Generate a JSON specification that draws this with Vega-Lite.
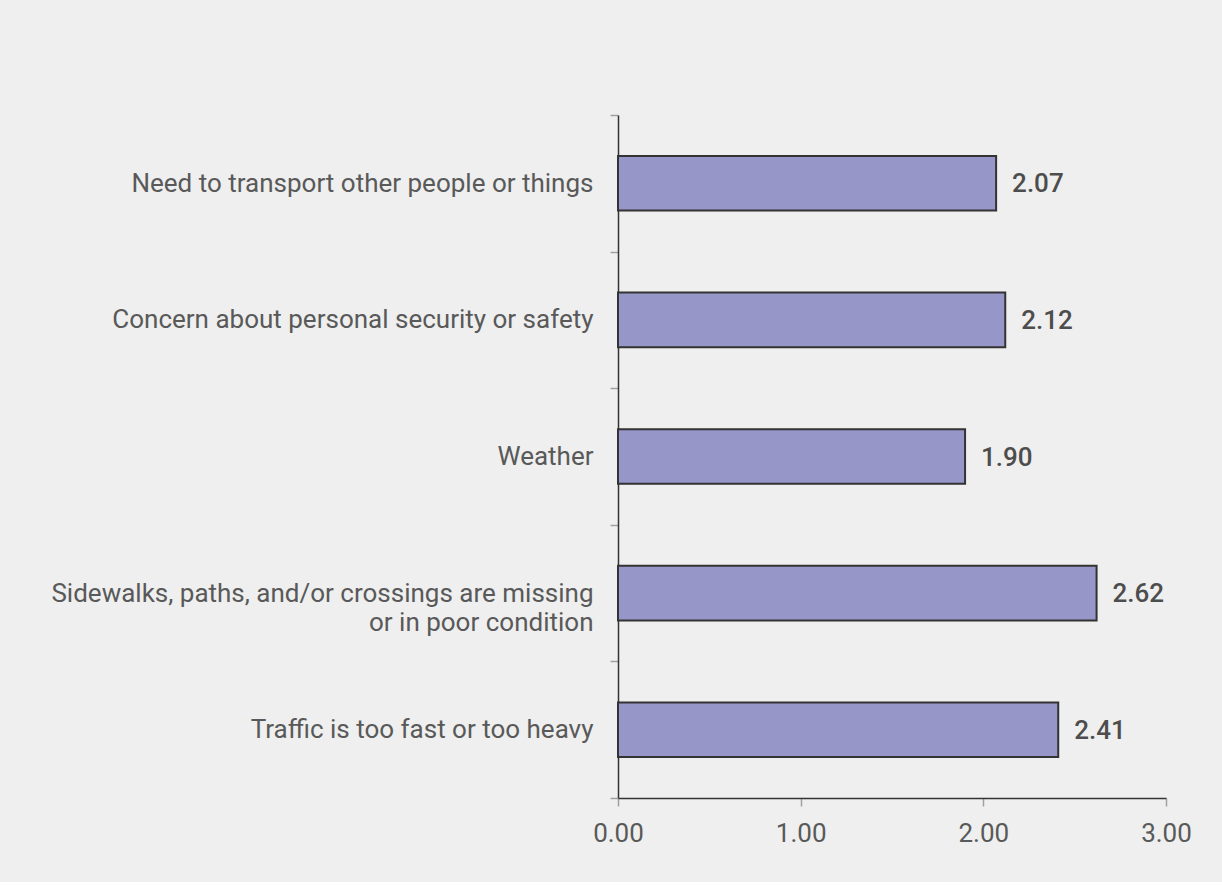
{
  "$schema": "https://vega.github.io/schema/vega-lite/v6.json",
  "background": "#EEEFEE",
  "padding": {"left": 50, "top": 102, "right": 30, "bottom": 36},
  "width": 548,
  "height": 683,
  "config": {
    "view": {"stroke": null},
    "font": "Roboto",
    "axis": {
      "labelFont": "Roboto",
      "labelFontSize": 26,
      "labelColor": "#595959",
      "domainColor": "#333333",
      "domainWidth": 1.5,
      "tickColor": "#A0A0A0",
      "tickWidth": 1.5,
      "tickSize": 8,
      "grid": false,
      "title": null
    }
  },
  "data": {
    "values": [
      {"reason": "Need to transport other people or things", "value": 2.07},
      {"reason": "Concern about personal security or safety", "value": 2.12},
      {"reason": "Weather", "value": 1.90},
      {"reason": "Sidewalks, paths, and/or crossings are missing|or in poor condition", "value": 2.62},
      {"reason": "Traffic is too fast or too heavy", "value": 2.41}
    ]
  },
  "encoding": {
    "y": {
      "field": "reason",
      "type": "nominal",
      "sort": null,
      "scale": {"paddingInner": 0, "paddingOuter": 0},
      "axis": {
        "labelExpr": "indexof(datum.label, '|') >= 0 ? [split(datum.label, '|')[0], split(datum.label, '|')[1] + '\u00a0\u00a0\u00a0\u00a0\u00a0\u00a0\u00a0\u00a0\u00a0\u00a0\u00a0\u00a0\u00a0\u00a0\u00a0\u00a0\u00a0\u00a0\u00a0\u00a0\u00a0\u00a0\u00a0\u00a0\u00a0'] : datum.label",
        "labelLineHeight": 29,
        "labelPadding": 17,
        "labelLimit": 800,
        "tickBand": "extent"
      }
    },
    "x": {
      "field": "value",
      "type": "quantitative",
      "scale": {"domain": [0, 3], "nice": false},
      "axis": {"values": [0, 1, 2, 3], "format": ".2f", "labelPadding": 14, "labelFlush": false}
    }
  },
  "layer": [
    {
      "mark": {"type": "bar", "height": {"band": 0.4}, "fill": "#9696C9", "stroke": "#333333", "strokeWidth": 2}
    },
    {
      "mark": {"type": "text", "align": "left", "baseline": "middle", "dx": 16, "dy": 1, "fontSize": 26, "fontWeight": 500, "color": "#4D4D4D", "font": "Roboto"},
      "encoding": {"text": {"field": "value", "type": "quantitative", "format": ".2f"}}
    }
  ]
}
